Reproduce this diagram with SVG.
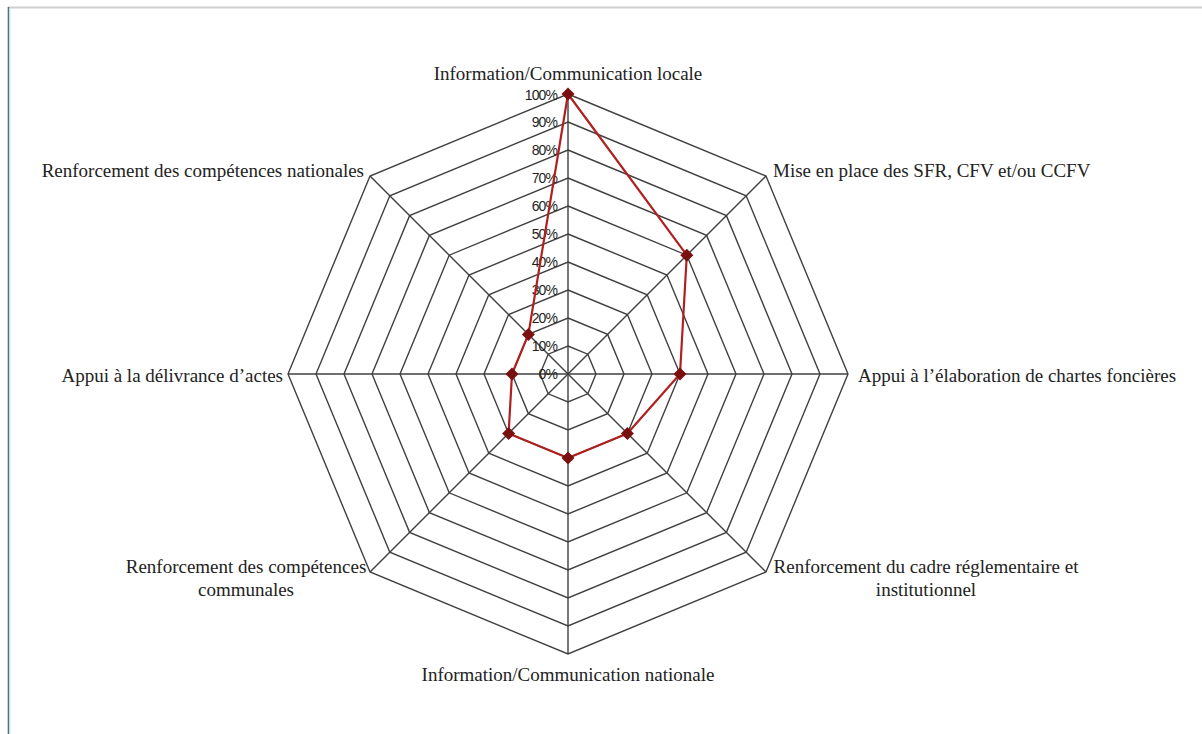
<svg xmlns="http://www.w3.org/2000/svg" width="1202" height="734" viewBox="0 0 1202 734">
  <style>
    .ring { fill: none; stroke: #404040; stroke-width: 1.4; }
    .spoke { stroke: #404040; stroke-width: 1.4; }
    .series { fill: none; stroke: #b02020; stroke-width: 2.2; stroke-linejoin: round; }
    .pt { fill: #7a1010; }
    .axis-label { font-family: "Liberation Serif", "Times New Roman", serif; font-size: 19px; fill: #222; }
    .tick { font-family: "Liberation Sans", Arial, sans-serif; font-size: 14px; fill: #1e1e1e; text-anchor: end; letter-spacing: -0.9px; }
  </style>
  <defs>
    <path id="marker" d="M0,-6.5 L6.5,0 L0,6.5 L-6.5,0 Z"/>
  </defs>

  <rect width="1202" height="734" fill="#ffffff"/>
  <!-- page frame -->
  <line x1="8" y1="7.5" x2="1202" y2="7.5" stroke="#cfcfcf" stroke-width="2"/>
  <line x1="8.5" y1="7" x2="8.5" y2="734" stroke="#4f6f85" stroke-width="1.6"/>
  <line x1="10" y1="8" x2="10" y2="734" stroke="#cdeff5" stroke-width="1"/>

  <!-- octagonal grid: 10 rings, 28px per 10% step, centred at (568,374) -->
  <g id="grid" transform="translate(568,374)">
    <polygon class="ring" points="0,-28 19.80,-19.80 28,0 19.80,19.80 0,28 -19.80,19.80 -28,0 -19.80,-19.80"/>
    <polygon class="ring" points="0,-56 39.60,-39.60 56,0 39.60,39.60 0,56 -39.60,39.60 -56,0 -39.60,-39.60"/>
    <polygon class="ring" points="0,-84 59.40,-59.40 84,0 59.40,59.40 0,84 -59.40,59.40 -84,0 -59.40,-59.40"/>
    <polygon class="ring" points="0,-112 79.20,-79.20 112,0 79.20,79.20 0,112 -79.20,79.20 -112,0 -79.20,-79.20"/>
    <polygon class="ring" points="0,-140 98.99,-98.99 140,0 98.99,98.99 0,140 -98.99,98.99 -140,0 -98.99,-98.99"/>
    <polygon class="ring" points="0,-168 118.79,-118.79 168,0 118.79,118.79 0,168 -118.79,118.79 -168,0 -118.79,-118.79"/>
    <polygon class="ring" points="0,-196 138.59,-138.59 196,0 138.59,138.59 0,196 -138.59,138.59 -196,0 -138.59,-138.59"/>
    <polygon class="ring" points="0,-224 158.39,-158.39 224,0 158.39,158.39 0,224 -158.39,158.39 -224,0 -158.39,-158.39"/>
    <polygon class="ring" points="0,-252 178.19,-178.19 252,0 178.19,178.19 0,252 -178.19,178.19 -252,0 -178.19,-178.19"/>
    <polygon class="ring" points="0,-280 197.99,-197.99 280,0 197.99,197.99 0,280 -197.99,197.99 -280,0 -197.99,-197.99"/>
    <line class="spoke" x1="0" y1="0" x2="0" y2="-280"/>
    <line class="spoke" x1="0" y1="0" x2="197.99" y2="-197.99"/>
    <line class="spoke" x1="0" y1="0" x2="280" y2="0"/>
    <line class="spoke" x1="0" y1="0" x2="197.99" y2="197.99"/>
    <line class="spoke" x1="0" y1="0" x2="0" y2="280"/>
    <line class="spoke" x1="0" y1="0" x2="-197.99" y2="197.99"/>
    <line class="spoke" x1="0" y1="0" x2="-280" y2="0"/>
    <line class="spoke" x1="0" y1="0" x2="-197.99" y2="-197.99"/>
  </g>

  <g id="ticks">
    <text class="tick" x="557" y="379">0%</text>
    <text class="tick" x="557" y="351">10%</text>
    <text class="tick" x="557" y="323">20%</text>
    <text class="tick" x="557" y="295">30%</text>
    <text class="tick" x="557" y="267">40%</text>
    <text class="tick" x="557" y="239">50%</text>
    <text class="tick" x="557" y="211">60%</text>
    <text class="tick" x="557" y="183">70%</text>
    <text class="tick" x="557" y="155">80%</text>
    <text class="tick" x="557" y="127">90%</text>
    <text class="tick" x="557" y="100">100%</text>
  </g>

  <!-- values: 100, 60, 40, 30, 30, 30, 20, 20 % clockwise from the top -->
  <g id="series" transform="translate(568,374)">
    <polygon class="series" points="0,-280 118.79,-118.79 112,0 59.40,59.40 0,84 -59.40,59.40 -56,0 -39.60,-39.60"/>
    <use href="#marker" class="pt" x="0" y="-280"/>
    <use href="#marker" class="pt" x="118.79" y="-118.79"/>
    <use href="#marker" class="pt" x="112" y="0"/>
    <use href="#marker" class="pt" x="59.40" y="59.40"/>
    <use href="#marker" class="pt" x="0" y="84"/>
    <use href="#marker" class="pt" x="-59.40" y="59.40"/>
    <use href="#marker" class="pt" x="-56" y="0"/>
    <use href="#marker" class="pt" x="-39.60" y="-39.60"/>
  </g>

  <g id="label-info-locale">
    <text class="axis-label" x="568" y="80" text-anchor="middle">Information/Communication locale</text>
  </g>
  <g id="label-sfr">
    <text class="axis-label" x="773" y="177">Mise en place des SFR, CFV et/ou CCFV</text>
  </g>
  <g id="label-chartes">
    <text class="axis-label" x="858" y="382">Appui à l’élaboration de chartes foncières</text>
  </g>
  <g id="label-cadre">
    <text class="axis-label" x="926" y="573" text-anchor="middle">Renforcement du cadre réglementaire et</text>
    <text class="axis-label" x="926" y="596" text-anchor="middle">institutionnel</text>
  </g>
  <g id="label-info-nationale">
    <text class="axis-label" x="568" y="681" text-anchor="middle">Information/Communication nationale</text>
  </g>
  <g id="label-communales">
    <text class="axis-label" x="246" y="573" text-anchor="middle">Renforcement des compétences</text>
    <text class="axis-label" x="246" y="596" text-anchor="middle">communales</text>
  </g>
  <g id="label-actes">
    <text class="axis-label" x="283" y="382" text-anchor="end">Appui à la délivrance d’actes</text>
  </g>
  <g id="label-nationales">
    <text class="axis-label" x="364" y="177" text-anchor="end">Renforcement des compétences nationales</text>
  </g>
</svg>
